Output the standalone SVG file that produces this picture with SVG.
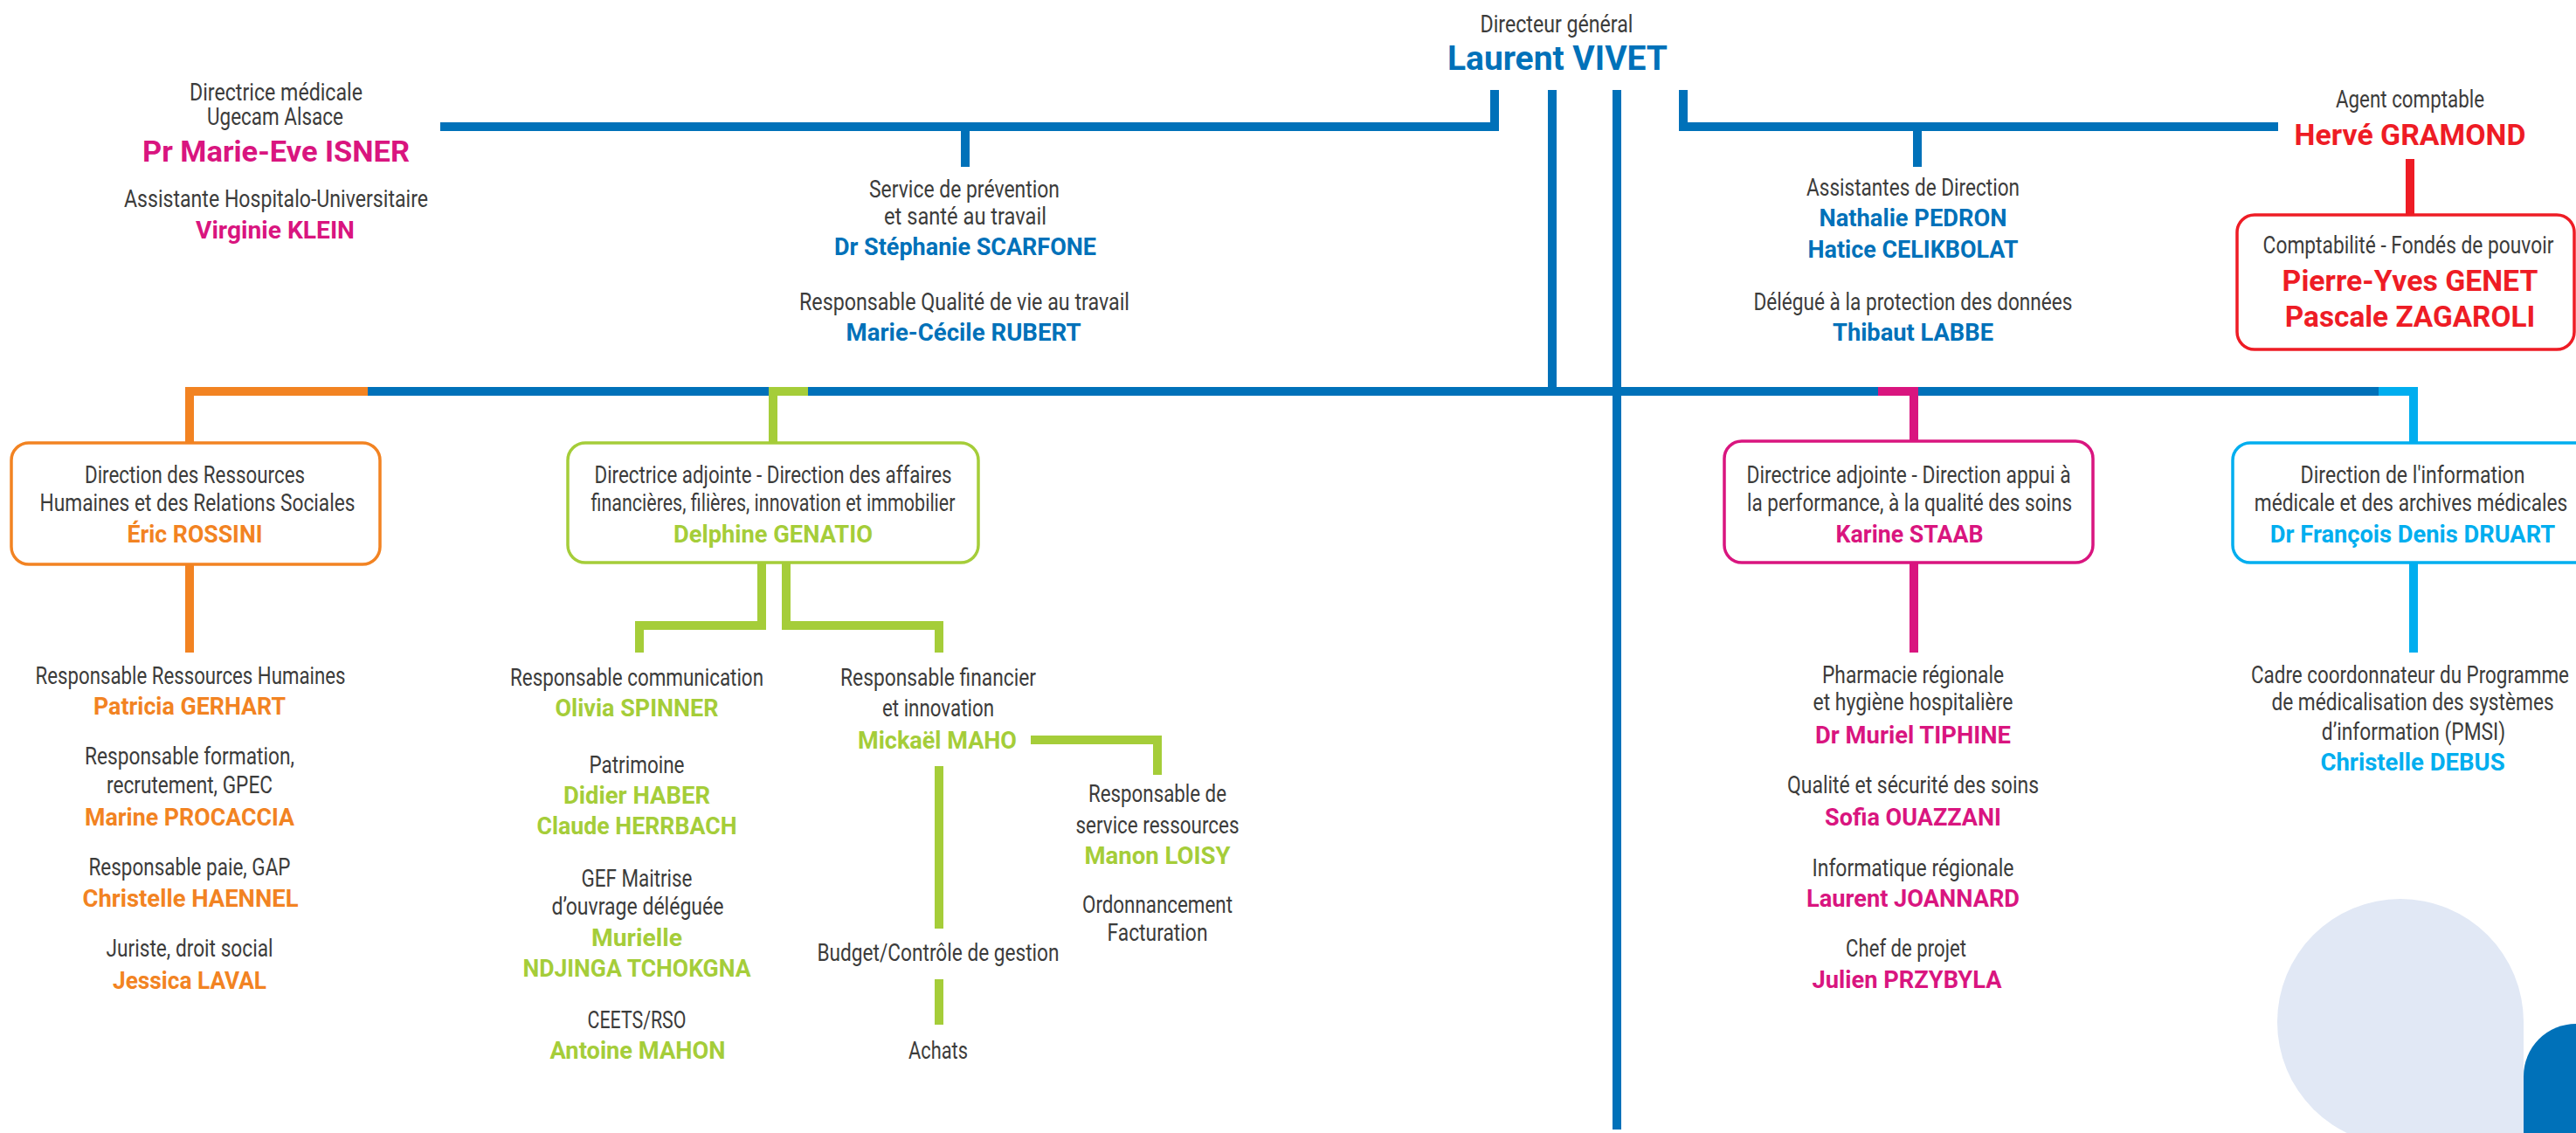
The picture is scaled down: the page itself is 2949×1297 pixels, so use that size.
<svg xmlns="http://www.w3.org/2000/svg" width="2949" height="1297" viewBox="0 0 2949 1297">
<style>
text{font-family:Roboto,"Liberation Sans",sans-serif;text-anchor:middle}
.r{font-size:27px;fill:#3c3c3b}
.n{font-size:28px;font-weight:700}
.L{font-size:34px;font-weight:700}
.XL{font-size:39px;font-weight:700}
.cb{fill:#0071b9}.co{fill:#f28322}.cg{fill:#a5cd39}.cm{fill:#d9157f}.cl{fill:#00aeef}.cr{fill:#ee1c25}
.ln{fill:none;stroke-width:10;stroke-linejoin:miter;stroke-linecap:butt}
.box{fill:#fff;stroke-width:3.5}
.sb{stroke:#0071b9}.so{stroke:#f28322}.sg{stroke:#a5cd39}.sm{stroke:#d9157f}.sl{stroke:#00aeef}.sr{stroke:#ee1c25}
</style>
<rect width="2949" height="1297" fill="#fff"/>
<g id="decor">
<path d="M2889,1170 A141,141 0 1 0 2748,1311 H2889 Z" fill="#e1e8f5"/>
<path d="M2889,1297 V1232 A60,60 0 0 1 2949,1172 V1297 Z" fill="#0071b9"/>
</g>
<g id="connectors">
<path class="ln sb" d="M504,145 H1711 V103"/>
<path class="ln sb" d="M1927,103 V145 H2608"/>
<path class="ln sb" d="M1105,150 V191"/>
<path class="ln sb" d="M2195,150 V191"/>
<path class="ln sb" d="M1777,103 V448"/>
<path class="ln sb" d="M421,448 H2723"/>
<path class="ln sb" d="M1851,103 V1293"/>
<path class="ln so" d="M217,507 V448 H421"/>
<path class="ln sg" d="M885,507 V448 H925"/>
<path class="ln sm" d="M2191,505 V448 H2150"/>
<path class="ln sl" d="M2763,507 V448 H2723"/>
<path class="ln sr" d="M2759,182 V245"/>
<path class="ln so" d="M217,646 V747"/>
<path class="ln sg" d="M872,644 V716 H732 V747"/>
<path class="ln sg" d="M900,644 V716 H1075 V747"/>
<path class="ln sg" d="M1180,847 H1325 V887"/>
<path class="ln sg" d="M1075,877 V1063"/>
<path class="ln sg" d="M1075,1121 V1173"/>
<path class="ln sm" d="M2191,644 V747"/>
<path class="ln sl" d="M2763,644 V747"/>
</g>
<g id="directeur-general">
<text class="r" x="1782" y="37" textLength="175" lengthAdjust="spacingAndGlyphs">Directeur général</text>
<text class="XL cb" x="1783" y="80" textLength="252" lengthAdjust="spacingAndGlyphs">Laurent VIVET</text>
</g>
<g id="directrice-medicale">
<text class="r" x="316" y="115" textLength="198" lengthAdjust="spacingAndGlyphs">Directrice médicale</text>
<text class="r" x="315" y="143" textLength="156" lengthAdjust="spacingAndGlyphs">Ugecam Alsace</text>
<text class="L cm" x="316" y="185" textLength="306" lengthAdjust="spacingAndGlyphs">Pr Marie-Eve ISNER</text>
<text class="r" x="316" y="237" textLength="348" lengthAdjust="spacingAndGlyphs">Assistante Hospitalo-Universitaire</text>
<text class="n cm" x="315" y="273" textLength="182" lengthAdjust="spacingAndGlyphs">Virginie KLEIN</text>
</g>
<g id="prevention">
<text class="r" x="1104" y="226" textLength="218" lengthAdjust="spacingAndGlyphs">Service de prévention</text>
<text class="r" x="1105" y="257" textLength="186" lengthAdjust="spacingAndGlyphs">et santé au travail</text>
<text class="n cb" x="1105" y="292" textLength="300" lengthAdjust="spacingAndGlyphs">Dr Stéphanie SCARFONE</text>
<text class="r" x="1104" y="355" textLength="378" lengthAdjust="spacingAndGlyphs">Responsable Qualité de vie au travail</text>
<text class="n cb" x="1103" y="390" textLength="269" lengthAdjust="spacingAndGlyphs">Marie-Cécile RUBERT</text>
</g>
<g id="assistantes">
<text class="r" x="2190" y="224" textLength="244" lengthAdjust="spacingAndGlyphs">Assistantes de Direction</text>
<text class="n cb" x="2190" y="259" textLength="215" lengthAdjust="spacingAndGlyphs">Nathalie PEDRON</text>
<text class="n cb" x="2190" y="295" textLength="241" lengthAdjust="spacingAndGlyphs">Hatice CELIKBOLAT</text>
<text class="r" x="2190" y="355" textLength="365" lengthAdjust="spacingAndGlyphs">Délégué à la protection des données</text>
<text class="n cb" x="2190" y="390" textLength="184" lengthAdjust="spacingAndGlyphs">Thibaut LABBE</text>
</g>
<g id="agent-comptable">
<text class="r" x="2759" y="123" textLength="170" lengthAdjust="spacingAndGlyphs">Agent comptable</text>
<text class="L cr" transform="translate(2759,166) scale(0.8,1)" x="0" y="0" textLength="331" lengthAdjust="spacingAndGlyphs">Hervé GRAMOND</text>
</g>
<g id="comptabilite">
<rect class="box sr" x="2561" y="246" width="386" height="154" rx="20"/>
<text class="r" transform="translate(2757,290) scale(0.8,1)" x="0" y="0" textLength="416" lengthAdjust="spacingAndGlyphs">Comptabilité - Fondés de pouvoir</text>
<text class="L cr" transform="translate(2759,333) scale(0.8,1)" x="0" y="0" textLength="366" lengthAdjust="spacingAndGlyphs">Pierre-Yves GENET</text>
<text class="L cr" transform="translate(2759,374) scale(0.8,1)" x="0" y="0" textLength="358" lengthAdjust="spacingAndGlyphs">Pascale ZAGAROLI</text>
</g>
<g id="drh">
<rect class="box so" x="13" y="507" width="422" height="139" rx="20"/>
<text class="r" x="223" y="553" textLength="252" lengthAdjust="spacingAndGlyphs">Direction des Ressources</text>
<text class="r" x="226" y="585" textLength="361" lengthAdjust="spacingAndGlyphs">Humaines et des Relations Sociales</text>
<text class="n co" x="223" y="621" textLength="155" lengthAdjust="spacingAndGlyphs">Éric ROSSINI</text>
</g>
<g id="drh-equipe">
<text class="r" x="218" y="783" textLength="355" lengthAdjust="spacingAndGlyphs">Responsable Ressources Humaines</text>
<text class="n co" x="217" y="818" textLength="220" lengthAdjust="spacingAndGlyphs">Patricia GERHART</text>
<text class="r" x="217" y="875" textLength="240" lengthAdjust="spacingAndGlyphs">Responsable formation,</text>
<text class="r" x="217" y="908" textLength="190" lengthAdjust="spacingAndGlyphs">recrutement, GPEC</text>
<text class="n co" x="217" y="945" textLength="240" lengthAdjust="spacingAndGlyphs">Marine PROCACCIA</text>
<text class="r" x="217" y="1002" textLength="231" lengthAdjust="spacingAndGlyphs">Responsable paie, GAP</text>
<text class="n co" x="218" y="1038" textLength="247" lengthAdjust="spacingAndGlyphs">Christelle HAENNEL</text>
<text class="r" x="217" y="1095" textLength="191" lengthAdjust="spacingAndGlyphs">Juriste, droit social</text>
<text class="n co" x="217" y="1132" textLength="176" lengthAdjust="spacingAndGlyphs">Jessica LAVAL</text>
</g>
<g id="daf">
<rect class="box sg" x="650" y="507" width="470" height="137" rx="20"/>
<text class="r" x="885" y="553" textLength="409" lengthAdjust="spacingAndGlyphs">Directrice adjointe - Direction des affaires</text>
<text class="r" x="885" y="585" textLength="417" lengthAdjust="spacingAndGlyphs">financières, filières, innovation et immobilier</text>
<text class="n cg" x="885" y="621" textLength="228" lengthAdjust="spacingAndGlyphs">Delphine GENATIO</text>
</g>
<g id="communication">
<text class="r" x="729" y="785" textLength="290" lengthAdjust="spacingAndGlyphs">Responsable communication</text>
<text class="n cg" x="729" y="820" textLength="187" lengthAdjust="spacingAndGlyphs">Olivia SPINNER</text>
<text class="r" x="729" y="885" textLength="109" lengthAdjust="spacingAndGlyphs">Patrimoine</text>
<text class="n cg" x="729" y="920" textLength="168" lengthAdjust="spacingAndGlyphs">Didier HABER</text>
<text class="n cg" x="729" y="955" textLength="229" lengthAdjust="spacingAndGlyphs">Claude HERRBACH</text>
<text class="r" x="729" y="1015" textLength="127" lengthAdjust="spacingAndGlyphs">GEF Maitrise</text>
<text class="r" x="730" y="1047" textLength="197" lengthAdjust="spacingAndGlyphs">d’ouvrage déléguée</text>
<text class="n cg" x="729" y="1083" textLength="104" lengthAdjust="spacingAndGlyphs">Murielle</text>
<text class="n cg" x="729" y="1118" textLength="261" lengthAdjust="spacingAndGlyphs">NDJINGA TCHOKGNA</text>
<text class="r" x="729" y="1177" textLength="113" lengthAdjust="spacingAndGlyphs">CEETS/RSO</text>
<text class="n cg" x="730" y="1212" textLength="201" lengthAdjust="spacingAndGlyphs">Antoine MAHON</text>
</g>
<g id="financier">
<text class="r" x="1074" y="785" textLength="224" lengthAdjust="spacingAndGlyphs">Responsable financier</text>
<text class="r" x="1074" y="820" textLength="128" lengthAdjust="spacingAndGlyphs">et innovation</text>
<text class="n cg" x="1073" y="857" textLength="182" lengthAdjust="spacingAndGlyphs">Mickaël MAHO</text>
</g>
<g id="budget">
<text class="r" x="1074" y="1100" textLength="277" lengthAdjust="spacingAndGlyphs">Budget/Contrôle de gestion</text>
</g>
<g id="achats">
<text class="r" x="1074" y="1212" textLength="68" lengthAdjust="spacingAndGlyphs">Achats</text>
</g>
<g id="service-ressources">
<text class="r" x="1325" y="918" textLength="158" lengthAdjust="spacingAndGlyphs">Responsable de</text>
<text class="r" x="1325" y="954" textLength="187" lengthAdjust="spacingAndGlyphs">service ressources</text>
<text class="n cg" x="1325" y="989" textLength="167" lengthAdjust="spacingAndGlyphs">Manon LOISY</text>
<text class="r" x="1325" y="1045" textLength="172" lengthAdjust="spacingAndGlyphs">Ordonnancement</text>
<text class="r" x="1325" y="1077" textLength="115" lengthAdjust="spacingAndGlyphs">Facturation</text>
</g>
<g id="dap">
<rect class="box sm" x="1974" y="505" width="422" height="139" rx="20"/>
<text class="r" x="2185" y="553" textLength="371" lengthAdjust="spacingAndGlyphs">Directrice adjointe - Direction appui à</text>
<text class="r" x="2186" y="585" textLength="372" lengthAdjust="spacingAndGlyphs">la performance, à la qualité des soins</text>
<text class="n cm" x="2186" y="621" textLength="169" lengthAdjust="spacingAndGlyphs">Karine STAAB</text>
</g>
<g id="dap-equipe">
<text class="r" x="2190" y="782" textLength="208" lengthAdjust="spacingAndGlyphs">Pharmacie régionale</text>
<text class="r" x="2190" y="813" textLength="229" lengthAdjust="spacingAndGlyphs">et hygiène hospitalière</text>
<text class="n cm" x="2190" y="851" textLength="224" lengthAdjust="spacingAndGlyphs">Dr Muriel TIPHINE</text>
<text class="r" x="2190" y="908" textLength="288" lengthAdjust="spacingAndGlyphs">Qualité et sécurité des soins</text>
<text class="n cm" x="2190" y="945" textLength="202" lengthAdjust="spacingAndGlyphs">Sofia OUAZZANI</text>
<text class="r" x="2190" y="1003" textLength="231" lengthAdjust="spacingAndGlyphs">Informatique régionale</text>
<text class="n cm" x="2190" y="1038" textLength="244" lengthAdjust="spacingAndGlyphs">Laurent JOANNARD</text>
<text class="r" x="2182" y="1095" textLength="138" lengthAdjust="spacingAndGlyphs">Chef de projet</text>
<text class="n cm" x="2183" y="1131" textLength="217" lengthAdjust="spacingAndGlyphs">Julien PRZYBYLA</text>
</g>
<g id="dim">
<rect class="box sl" x="2556" y="507" width="420" height="137" rx="20"/>
<text class="r" transform="translate(2762,553) scale(0.8,1)" x="0" y="0" textLength="321" lengthAdjust="spacingAndGlyphs">Direction de l'information</text>
<text class="r" transform="translate(2760,585) scale(0.8,1)" x="0" y="0" textLength="448" lengthAdjust="spacingAndGlyphs">médicale et des archives médicales</text>
<text class="n cl" transform="translate(2762,621) scale(0.8,1)" x="0" y="0" textLength="408" lengthAdjust="spacingAndGlyphs">Dr François Denis DRUART</text>
</g>
<g id="pmsi">
<text class="r" transform="translate(2759,782) scale(0.8,1)" x="0" y="0" textLength="455" lengthAdjust="spacingAndGlyphs">Cadre coordonnateur du Programme</text>
<text class="r" transform="translate(2762,813) scale(0.8,1)" x="0" y="0" textLength="404" lengthAdjust="spacingAndGlyphs">de médicalisation des systèmes</text>
<text class="r" transform="translate(2763,847) scale(0.8,1)" x="0" y="0" textLength="263" lengthAdjust="spacingAndGlyphs">d’information (PMSI)</text>
<text class="n cl" transform="translate(2762,882) scale(0.8,1)" x="0" y="0" textLength="264" lengthAdjust="spacingAndGlyphs">Christelle DEBUS</text>
</g>
</svg>
